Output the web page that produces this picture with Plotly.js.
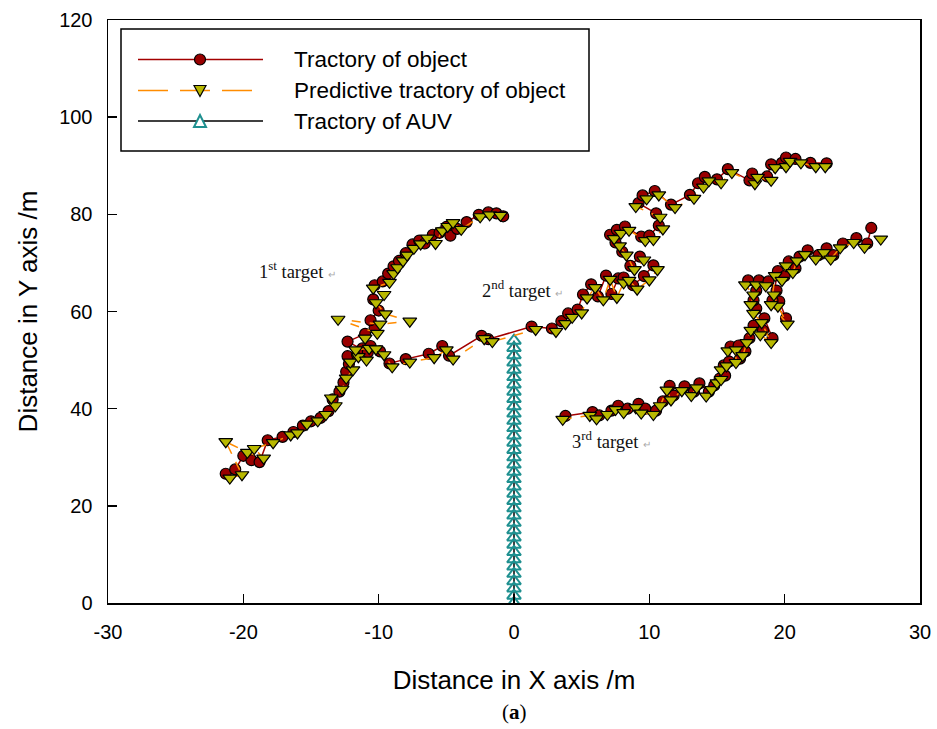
<!DOCTYPE html>
<html>
<head>
<meta charset="utf-8">
<script src="https://cdn.plot.ly/plotly-3.0.1.min.js"></script>
<style>html,body{margin:0;padding:0;background:#fff;}#chart{width:937px;height:729px;}</style>
</head>
<body>
<div id="chart"></div>
<script>
// ---- Data ----
// 1st target: actual trajectory
const obj1X = [-21.3,-20.6,-20.0,-19.4,-18.8,-18.2,-17.1,-16.3,-15.6,-15.0,-14.3,-13.7,-13.4,-12.9,-12.6,-12.4,-12.2,-12.3,-11.6,-11.2,-10.8,-12.3,-11.0,-10.3,-10.6,-10.0,-10.4,-10.3,-9.7,-9.3,-8.9,-8.5,-8.0,-7.5,-7.0,-6.6,-6.0,-5.5,-5.0,-4.7,-4.2,-3.5,-2.6,-1.9,-1.3,-0.8];
const obj1Y = [26.6,27.5,30.3,29.4,29.0,33.5,34.2,35.2,36.5,37.4,38.1,39.5,41.9,43.5,45.4,47.6,49.2,50.8,51.2,52.4,51.6,53.8,55.4,56.6,58.2,60.2,62.5,65.4,66.2,67.8,69.3,70.4,72.0,73.8,74.6,74.0,75.8,76.2,77.4,75.6,77.0,78.4,79.9,80.4,80.2,79.6];
// 1st target: predictive trajectory
const pred1X = [-21.0,-20.1,-21.3,-19.7,-18.5,-19.2,-17.8,-16.5,-16.0,-15.3,-14.5,-13.9,-13.2,-13.5,-12.7,-12.4,-11.9,-12.1,-11.5,-10.9,-11.7,-10.7,-11.0,-10.1,-13.0,-9.9,-7.7,-9.5,-10.2,-9.6,-10.4,-9.2,-8.9,-8.6,-8.2,-7.9,-7.4,-6.9,-6.4,-5.8,-5.3,-4.9,-4.5,-3.9,-2.5,-1.8,-1.0];
const pred1Y = [25.7,26.4,33.2,31.0,29.8,31.8,33.0,34.6,35.0,36.8,37.5,38.8,40.6,42.2,44.0,46.3,48.0,49.6,50.7,50.0,52.1,52.4,54.5,55.5,58.4,57.4,58.0,59.5,61.8,63.5,64.8,66.0,67.8,69.0,70.4,71.6,73.0,73.9,75.1,74.0,76.6,77.5,78.3,76.9,79.5,79.9,79.8];
// 2nd target
const obj2X = [-10.6,-9.9,-9.2,-8.0,-6.3,-5.3,-4.8,-2.4,-1.9,1.3,2.8,3.5,4.0,4.7,5.1,5.7,6.2,6.8,7.2,7.7,8.1,8.8,9.6,10.3,9.3,8.6,8.0,7.5,7.1,7.6,8.2,9.4,10.0,10.7,10.5,9.2,9.5,10.4,11.6,13.0,13.6,14.1,15.0,15.8,17.4,17.6,18.7,19.0,19.8,20.1,20.8,21.9,23.1];
const obj2Y = [52.9,51.8,49.3,50.2,51.3,52.9,50.9,55.0,54.3,56.9,56.5,58.0,59.6,60.4,63.5,65.6,63.1,67.4,63.6,66.8,67.0,65.4,67.3,69.5,71.3,69.4,72.3,74.2,75.8,76.8,77.5,75.4,75.6,77.7,80.2,82.3,83.9,84.8,82.0,84.0,86.4,87.7,87.2,89.3,87.0,88.4,87.8,90.3,90.6,91.7,91.4,90.6,90.5];
const pred2X = [-10.2,-9.6,-9.0,-7.7,-5.9,-5.0,-4.5,-2.2,-1.6,1.6,3.1,3.8,4.3,5.0,5.4,6.0,6.6,7.1,7.6,8.1,8.5,9.1,10.0,10.6,9.6,8.9,8.3,7.8,7.4,7.9,8.5,9.7,10.3,11.0,10.8,9.0,9.8,10.7,11.9,13.3,14.0,14.4,15.3,16.1,17.8,18.0,19.0,19.3,20.1,20.4,21.2,22.3,23.0];
const pred2Y = [52.3,51.1,48.6,49.6,50.5,52.1,50.2,54.4,53.8,56.3,55.9,57.5,58.8,59.7,62.8,64.9,62.4,66.6,62.9,65.9,66.4,64.6,66.5,68.6,70.6,68.6,71.6,73.5,75.0,76.1,76.7,74.6,74.8,77.0,79.4,81.6,83.2,84.0,81.4,83.3,85.6,86.9,86.5,88.6,86.3,87.6,87.0,89.6,89.8,90.9,90.6,89.8,89.8];
// 3rd target
const obj3X = [3.8,5.8,6.3,7.2,7.7,8.4,9.2,9.7,10.5,11.0,11.5,11.8,12.6,13.3,13.7,14.4,14.8,15.2,15.6,15.5,15.9,16.0,16.6,16.7,17.1,17.4,17.7,18.4,19.1,18.5,17.9,17.7,17.9,17.3,18.1,18.8,19.4,19.6,20.1,19.1,19.5,20.0,20.3,20.8,21.1,21.7,22.5,23.1,23.6,24.3,25.3,26.1,26.4];
const obj3Y = [38.5,39.3,38.6,39.6,40.6,40.0,41.0,40.0,39.6,41.5,44.7,42.7,44.6,43.5,45.2,43.5,44.8,46.2,46.8,48.9,49.7,52.8,53.0,50.3,51.8,54.5,57.1,56.1,54.5,58.6,60.6,62.3,64.3,66.4,66.4,66.2,64.3,62.1,58.6,62.3,68.3,67.3,70.3,68.9,71.3,72.6,71.6,73.0,71.6,74.0,75.1,74.0,77.2];
const pred3X = [3.6,5.6,6.1,6.9,7.5,8.1,9.0,9.4,10.3,10.8,11.3,11.6,12.4,13.1,13.5,14.2,14.6,15.0,15.3,15.3,15.7,15.8,16.4,16.4,16.9,17.2,17.5,18.2,19.0,18.3,17.7,17.5,17.7,17.1,17.9,18.6,19.2,19.5,20.2,19.0,19.3,19.8,20.1,20.6,20.9,21.5,22.3,22.9,23.4,24.1,25.1,25.9,27.1];
const pred3Y = [37.8,38.6,37.9,38.8,39.8,39.2,40.2,39.1,38.8,40.6,43.8,41.8,43.7,42.7,44.3,42.6,43.9,45.3,46.0,48.0,48.8,51.9,52.1,49.5,50.9,53.6,56.1,55.2,53.6,57.7,59.6,61.4,63.4,65.5,65.5,65.3,63.4,61.1,57.4,61.4,67.4,66.4,69.4,68.0,70.4,71.7,70.8,72.1,70.8,73.1,74.2,73.2,74.9];
// AUV trajectory
const auvX = [0,0,0,0,0,0,0,0,0,0,0,0,0,0,0,0,0,0,0,0,0,0,0,0,0,0,0,0,0,0,0,0,0,0,0,0,0];
const auvY = [0,1.5,3,4.5,6,7.5,9,10.5,12,13.5,15,16.5,18,19.5,21,22.5,24,25.5,27,28.5,30,31.5,33,34.5,36,37.5,39,40.5,42,43.5,45,46.5,48,49.5,51,52.5,54];
// Labels
const seriesNames = ["Tractory of object", "Predictive tractory of object", "Tractory of AUV"];
const targetLabels = ["1<sup>st</sup> target", "2<sup>nd</sup> target", "3<sup>rd</sup> target"];
const targetLabelX = [-16.0, 0.6, 7.2];
const targetLabelY = [68.6, 64.6, 33.6];
const xTickVals = [-30,-20,-10,0,10,20,30];
const yTickVals = [0,20,40,60,80,100,120];

// ---- Styles ----
const objColor = '#990000', objLine = '#A30000';
const predFill = '#B8B800', predLine = '#FF8C00';
const auvColor = '#1F9090';
const sans = 'Liberation Sans, Arial, sans-serif';

const objStyle = {mode:'lines+markers', line:{color:objLine, width:1.5},
  marker:{symbol:'circle', size:11, color:objColor, line:{color:'#000', width:1.2}}, showlegend:false, hoverinfo:'skip'};
const predStyle = {mode:'lines+markers', line:{color:predLine, width:1.5, dash:'dash'},
  marker:{symbol:'triangle-down', size:12, color:predFill, line:{color:'#000', width:1.2}}, showlegend:false, hoverinfo:'skip'};

const traces = [
  {x:auvX, y:auvY, name:seriesNames[2], mode:'lines+markers', line:{color:'#000', width:1.5},
    marker:{symbol:'triangle-up-open', size:12, color:auvColor, line:{color:auvColor, width:2}}, showlegend:false, hoverinfo:'skip'},
  Object.assign({}, objStyle, {x:obj1X, y:obj1Y, name:seriesNames[0]}),
  Object.assign({}, objStyle, {x:obj2X, y:obj2Y, name:seriesNames[0]}),
  Object.assign({}, objStyle, {x:obj3X, y:obj3Y, name:seriesNames[0]}),
  Object.assign({}, predStyle, {x:pred1X, y:pred1Y, name:seriesNames[1]}),
  Object.assign({}, predStyle, {x:pred2X, y:pred2Y, name:seriesNames[1]}),
  Object.assign({}, predStyle, {x:pred3X, y:pred3Y, name:seriesNames[1]})
];

// ---- Layout helpers (pixel -> paper) ----
const L = 108, R = 920, T = 20, B = 603;
const px = v => (v - L) / (R - L);
const py = v => (B - v) / (B - T);

const shapes = [];
const annotations = [];
// legend box
shapes.push({type:'rect', xref:'paper', yref:'paper', x0:px(121), x1:px(589), y0:py(151), y1:py(29), line:{color:'#000', width:1.5}, fillcolor:'#fff'});
const rowsY = [59.5, 90.5, 121];
// row 1: solid dark red line + circle
shapes.push({type:'line', xref:'paper', yref:'paper', x0:px(138), x1:px(263), y0:py(rowsY[0]), y1:py(rowsY[0]), line:{color:objLine, width:1.5}});
shapes.push({type:'circle', xref:'paper', yref:'paper', x0:px(194.5), x1:px(205.5), y0:py(rowsY[0]+5.5), y1:py(rowsY[0]-5.5), fillcolor:objColor, line:{color:'#000', width:1.2}});
// row 2: dashed orange line + down triangle
shapes.push({type:'line', xref:'paper', yref:'paper', x0:px(138), x1:px(253), y0:py(rowsY[1]), y1:py(rowsY[1]), line:{color:predLine, width:1.5, dash:'30px,12px'}});
(function(){const cx=200, cy=rowsY[1]; const p = `M ${px(cx-6)} ${py(cy-5)} L ${px(cx+6)} ${py(cy-5)} L ${px(cx)} ${py(cy+6)} Z`;
 shapes.push({type:'path', xref:'paper', yref:'paper', path:p, fillcolor:predFill, line:{color:'#000', width:1.2}});})();
// row 3: solid black line + open teal triangle
shapes.push({type:'line', xref:'paper', yref:'paper', x0:px(138), x1:px(263), y0:py(rowsY[2]), y1:py(rowsY[2]), line:{color:'#000', width:1.5}});
(function(){const cx=200, cy=rowsY[2]; const p = `M ${px(cx-6)} ${py(cy+6)} L ${px(cx+6)} ${py(cy+6)} L ${px(cx)} ${py(cy-6)} Z`;
 shapes.push({type:'path', xref:'paper', yref:'paper', path:p, fillcolor:'#fff', line:{color:auvColor, width:2}});})();
seriesNames.forEach((n,i)=>{
  annotations.push({xref:'paper', yref:'paper', x:px(292), y:py(rowsY[i]), xanchor:'left', yanchor:'middle', showarrow:false,
    text:n, font:{family:sans, size:22.5, color:'#000'}});
});
// target labels
targetLabels.forEach((t,i)=>{
  annotations.push({xref:'x', yref:'y', x:targetLabelX[i], y:targetLabelY[i], xanchor:'center', yanchor:'middle', showarrow:false,
    text:t + " <span style='font-size:10px;color:#aaa'>↵</span>", font:{family:'Liberation Serif, Times New Roman, serif', size:18.5, color:'#111'}});
});
// panel label
annotations.push({xref:'paper', yref:'paper', x:px(514), y:py(712), xanchor:'center', yanchor:'middle', showarrow:false, text:'(<b>a</b>)',
  font:{family:'Liberation Serif, serif', size:21, color:'#000'}});

const axisCommon = {showgrid:false, zeroline:false, showline:true, linecolor:'#000', linewidth:1.5, mirror:true,
  ticks:'inside', ticklen:9, tickwidth:1.5, tickcolor:'#000', ticklabelstandoff:10,
  tickfont:{family:sans, size:20, color:'#000'}};

const layout = {
  width:937, height:729,
  margin:{l:L, r:937-R, t:T, b:729-B},
  paper_bgcolor:'#fff', plot_bgcolor:'#fff',
  showlegend:false,
  xaxis: Object.assign({}, axisCommon, {range:[-30,30], tickvals:xTickVals, ticktext:xTickVals.map(String),
    title:{text:'Distance in X axis /m', font:{family:sans, size:26, color:'#000'}, standoff:29}}),
  yaxis: Object.assign({}, axisCommon, {range:[0,120], tickvals:yTickVals, ticktext:yTickVals.map(String),
    title:{text:'Distance in Y axis /m', font:{family:sans, size:26, color:'#000'}, standoff:14}}),
  shapes:shapes, annotations:annotations
};

Plotly.newPlot('chart', traces, layout, {displayModeBar:false, staticPlot:true});
</script>
</body>
</html>
